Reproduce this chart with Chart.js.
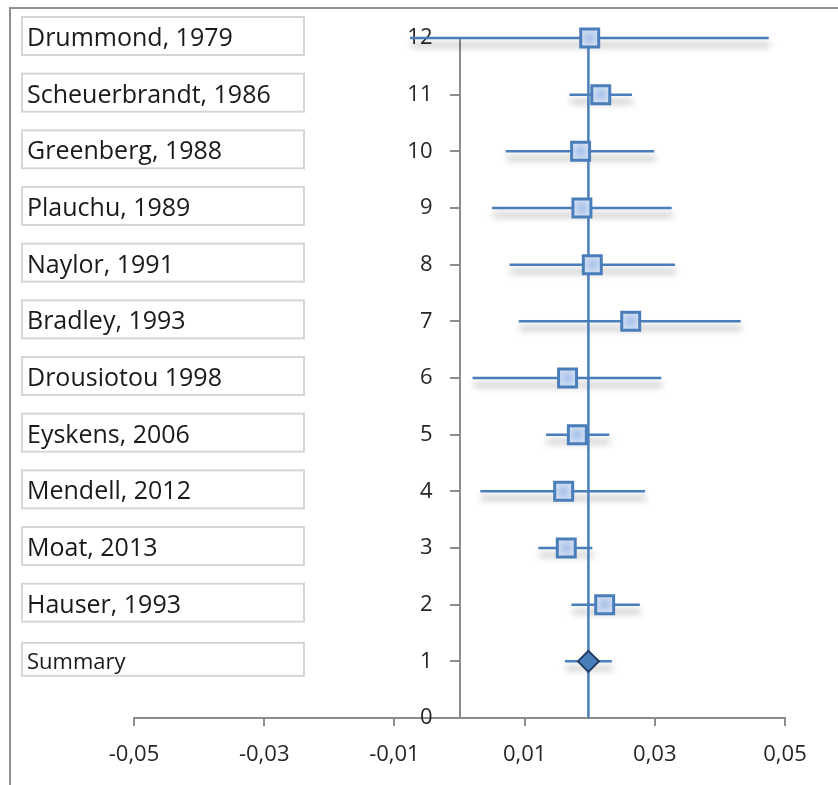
<!DOCTYPE html>
<html>
<head>
<meta charset="utf-8">
<script src="https://cdn.jsdelivr.net/npm/chart.js@4/dist/chart.umd.min.js"></script>
<style>
  html, body { margin: 0; padding: 0; background: #fff; }
  #wrap { width: 838px; height: 785px; }
</style>
</head>
<body>
<div id="wrap"><canvas id="forest" width="838" height="785"></canvas></div>
<script>
// Studies from top (row 12) to bottom (row 1)
const studies = [
  'Drummond, 1979', 'Scheuerbrandt, 1986', 'Greenberg, 1988', 'Plauchu, 1989',
  'Naylor, 1991', 'Bradley, 1993', 'Drousiotou 1998', 'Eyskens, 2006',
  'Mendell, 2012', 'Moat, 2013', 'Hauser, 1993', 'Summary'
];
const rows      = [12, 11, 10, 9, 8, 7, 6, 5, 4, 3, 2, 1];
const estimates = [0.0200, 0.0217, 0.0186, 0.0188, 0.0204, 0.0263, 0.0166, 0.0181, 0.0160, 0.0164, 0.0223, 0.0198];
const lower     = [-0.0076, 0.0169, 0.0071, 0.0050, 0.0077, 0.0091, 0.0020, 0.0133, 0.0032, 0.0121, 0.0172, 0.0162];
const upper     = [0.0475, 0.0265, 0.0299, 0.0326, 0.0331, 0.0432, 0.0310, 0.0230, 0.0285, 0.0204, 0.0277, 0.0234];
const pooled    = 0.0198;

const xTicks      = [-0.05, -0.03, -0.01, 0.01, 0.03, 0.05];
const xTickLabels = ['-0,05', '-0,03', '-0,01', '0,01', '0,03', '0,05'];

const BLUE = '#4a7ebb';
const AXIS = '#8c8c8c';
const FONT = "'Open Sans', 'DejaVu Sans', sans-serif";

// one line per confidence interval
const ciSets = rows.map((r, i) => ({
  type: 'line',
  data: [{ x: lower[i], y: r }, { x: upper[i], y: r }],
  borderColor: BLUE,
  borderWidth: 2.5,
  pointRadius: 0,
  fill: false,
  clip: false,
  shadow: true,
  order: 3
}));

const nStudies = studies.length - 1;

function squareFill(ctx) {
  const chart = ctx.chart;
  const flat = '#c6d6ef';
  if (!ctx.parsed || !chart.scales || !chart.scales.x || !chart.scales.y) return flat;
  const px = chart.scales.x.getPixelForValue(ctx.parsed.x);
  const py = chart.scales.y.getPixelForValue(ctx.parsed.y);
  if (!isFinite(px) || !isFinite(py)) return flat;
  const g = chart.ctx.createRadialGradient(px, py, 0, px, py, 12);
  g.addColorStop(0, '#a9c2ea');
  g.addColorStop(1, '#dce6f4');
  return g;
}

const datasets = [
  ...ciSets,
  {
    type: 'line',
    data: [{ x: pooled, y: 0 }, { x: pooled, y: 12 }],
    borderColor: BLUE,
    borderWidth: 2.5,
    pointRadius: 0,
    clip: false,
    order: 2
  },
  {
    type: 'scatter',
    data: rows.slice(0, nStudies).map((r, i) => ({ x: estimates[i], y: r })),
    pointStyle: 'rect',
    pointRadius: 12.7,
    pointHoverRadius: 12.7,
    borderWidth: 3,
    pointBorderColor: BLUE,
    pointBackgroundColor: squareFill,
    clip: false,
    order: 1
  },
  {
    type: 'scatter',
    data: [{ x: estimates[nStudies], y: rows[nStudies] }],
    pointStyle: 'rectRot',
    pointRadius: 10.5,
    pointHoverRadius: 10.5,
    borderWidth: 2,
    pointBorderColor: '#1f3b63',
    pointBackgroundColor: BLUE,
    clip: false,
    order: 0
  }
];

// white page, outer frame, study name boxes, y tick labels and bar shadows
const decor = {
  id: 'decor',
  beforeDraw(chart) {
    const ctx = chart.ctx;
    ctx.save();
    ctx.fillStyle = '#fff';
    ctx.fillRect(0, 0, chart.width, chart.height);
    ctx.strokeStyle = '#8f8f8f';
    ctx.lineWidth = 2;
    ctx.strokeRect(10, 8, 1000, 1000);

    const y = chart.scales.y;
    studies.forEach((name, i) => {
      const cy = y.getPixelForValue(rows[i]);
      const small = i === nStudies;
      const h = small ? 33 : 38;
      ctx.strokeStyle = '#d6d6d6';
      ctx.lineWidth = 2;
      ctx.strokeRect(22, cy - 2 - h / 2, 282, h);
      ctx.fillStyle = '#1a1a1a';
      ctx.font = (small ? 22 : 25) + 'px ' + FONT;
      ctx.textBaseline = 'middle';
      ctx.textAlign = 'left';
      ctx.fillText(name, 27, cy + 1);
    });
    ctx.restore();
  },
  beforeDatasetsDraw(chart) {
    // y-axis numbers sit left of the axis drawn at x = 0
    const ctx = chart.ctx;
    const ys = chart.scales.y;
    const x0 = chart.scales.x.getPixelForValue(0);
    ctx.save();
    ctx.fillStyle = '#262626';
    ctx.font = '22px ' + FONT;
    ctx.textAlign = 'right';
    ctx.textBaseline = 'middle';
    ys.ticks.forEach(t => {
      ctx.fillText(String(t.value), x0 - 27, ys.getPixelForValue(t.value));
    });
    ctx.restore();
  },
  beforeDatasetDraw(chart, args) {
    const ds = chart.data.datasets[args.index];
    if (ds.shadow) {
      const ctx = chart.ctx;
      ctx.save();
      ctx.shadowColor = 'rgba(0,0,0,0.42)';
      ctx.shadowBlur = 7;
      ctx.shadowOffsetX = 1;
      ctx.shadowOffsetY = 7;
    }
  },
  afterDatasetDraw(chart, args) {
    const ds = chart.data.datasets[args.index];
    if (ds.shadow) chart.ctx.restore();
  }
};

new Chart(document.getElementById('forest'), {
  data: { datasets },
  plugins: [decor],
  options: {
    responsive: false,
    animation: false,
    events: [],
    layout: { padding: { left: 134, right: 53, top: 38, bottom: 0 } },
    plugins: { legend: { display: false }, tooltip: { enabled: false } },
    scales: {
      x: {
        type: 'linear',
        min: -0.05,
        max: 0.05,
        afterBuildTicks(scale) { scale.ticks = xTicks.map(v => ({ value: v })); },
        afterFit(scale) { scale.height = 67; },
        ticks: {
          callback: (v, i) => xTickLabels[i],
          color: '#262626',
          font: { family: FONT, size: 22 },
          padding: 16,
          maxRotation: 0,
          autoSkip: false
        },
        grid: { drawOnChartArea: false, drawTicks: true, tickLength: 8, color: AXIS, lineWidth: 2 },
        border: { display: true, color: AXIS, width: 2 }
      },
      y: {
        type: 'linear',
        position: { x: 0 },
        min: 0,
        max: 12,
        afterFit(scale) { scale.width = 0; },
        ticks: {
          stepSize: 1,
          display: false
        },
        grid: { drawOnChartArea: false, drawTicks: true, tickLength: 9, color: AXIS, lineWidth: 2 },
        border: { display: true, color: AXIS, width: 2 }
      }
    }
  }
});
</script>
</body>
</html>
